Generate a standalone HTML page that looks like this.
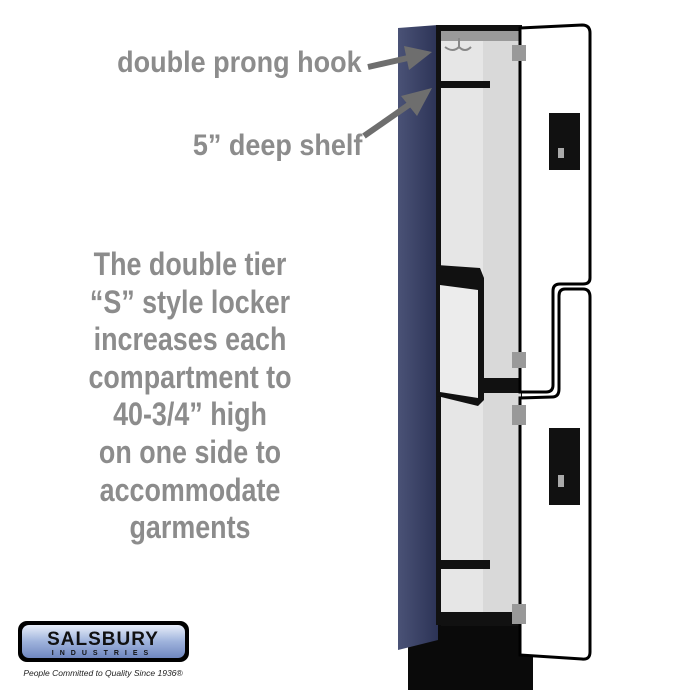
<!DOCTYPE html>
<html><head><style>
body{margin:0;background:#fff;}
#c{position:relative;width:700px;height:700px;overflow:hidden;background:#fff;font-family:"Liberation Sans",sans-serif;}
.t{position:absolute;color:#8c8c8c;font-weight:bold;white-space:nowrap;transform:scaleX(0.9);transform-origin:right center;}
.p{position:absolute;left:0px;width:380px;text-align:center;color:#8c8c8c;font-weight:bold;font-size:32px;line-height:37.6px;top:246px;transform:scaleX(0.84);transform-origin:190px 0;}
</style></head><body><div id="c">
<div class="t" style="right:338px;top:46px;font-size:30px;">double prong hook</div>
<div class="t" style="right:338px;top:129px;font-size:30px;">5” deep shelf</div>
<div class="p">The double tier<br>“S” style locker<br>increases each<br>compartment to<br>40-3/4” high<br>on one side to<br>accommodate<br>garments</div>

<svg width="700" height="700" style="position:absolute;left:0;top:0">
<defs>
<linearGradient id="lg" x1="0" y1="0" x2="0" y2="1"><stop offset="0" stop-color="#e8eefa"/><stop offset="0.5" stop-color="#9fb3dc"/><stop offset="1" stop-color="#6f87c0"/></linearGradient>
<linearGradient id="sd" x1="0" y1="0" x2="1" y2="0"><stop offset="0" stop-color="#4a5276"/><stop offset="1" stop-color="#2c3356"/></linearGradient>
</defs>
<rect x="408" y="612" width="125" height="78" fill="#0a0a0a"/>
<polygon points="398,28 438,25 438,640 398,650" fill="url(#sd)"/>
<g fill="#6e6e6e" stroke="#6e6e6e">
<line x1="368" y1="67" x2="408" y2="58" stroke-width="6"/>
<polygon points="404,46 432,52 409,70" stroke="none"/>
<line x1="364" y1="136" x2="410" y2="104" stroke-width="6"/>
<polygon points="401,96 432,88 417,116" stroke="none"/>
</g>
<rect x="436" y="25" width="86" height="600" fill="#111"/>
<rect x="441" y="31" width="80" height="585" fill="#d9d9d9"/>
<rect x="441" y="31" width="42" height="585" fill="#e6e6e6"/>
<rect x="441" y="31" width="80" height="10" fill="#9a9a9a"/>
<rect x="441" y="612" width="80" height="14" fill="#111"/>
<rect x="437" y="81" width="53" height="7" fill="#111"/>
<rect x="437" y="560" width="53" height="9" fill="#111"/>
<path d="M437,265 L480,268 L484,278 L484,400 L478,406 L437,396 Z" fill="#111"/>
<path d="M440,285 L478,290 L478,398 L440,392 Z" fill="#ececec"/>
<rect x="484" y="378" width="40" height="15" fill="#111"/>
<path d="M445,47 q8,6 14,0 M459,47 q6,6 12,0 M459,38 v10" stroke="#888" stroke-width="2" fill="none"/>
<path d="M520,28 L582,25 Q590,25 590,33 L590,278 Q590,284 583,284 L560,284 Q553,284 553,291 L553,385 Q553,392 546,392 L520,392 Z" fill="#fff" stroke="#000" stroke-width="3"/>
<path d="M565,289 L583,289 Q590,289 590,297 L590,652 Q590,660 582,659 L520,655 L520,398 L552,397 Q559,397 559,389 L559,296 Q559,289 565,289 Z" fill="#fff" stroke="#000" stroke-width="3"/>
<rect x="549" y="113" width="31" height="57" fill="#111"/>
<rect x="558" y="148" width="6" height="10" fill="#aaa"/>
<rect x="549" y="428" width="31" height="77" fill="#111"/>
<rect x="558" y="475" width="6" height="12" fill="#aaa"/>
<g fill="#999"><rect x="512" y="45" width="14" height="16"/><rect x="512" y="352" width="14" height="16"/><rect x="512" y="405" width="14" height="20"/><rect x="512" y="604" width="14" height="20"/></g>
<rect x="18" y="621" width="171" height="41" rx="9" fill="#000"/>
<rect x="22" y="625" width="163" height="33" rx="7" fill="url(#lg)"/>
<text x="103" y="645" text-anchor="middle" font-family="Liberation Sans" font-weight="bold" font-size="19" fill="#111" letter-spacing="1">SALSBURY</text>
<text x="103" y="655" text-anchor="middle" font-family="Liberation Sans" font-weight="bold" font-size="7" fill="#111" letter-spacing="6">INDUSTRIES</text>
<text x="103" y="676" text-anchor="middle" font-family="Liberation Sans" font-style="italic" font-size="8.5" fill="#222">People Committed to Quality Since 1936®</text>
</svg>
</div></body></html>
